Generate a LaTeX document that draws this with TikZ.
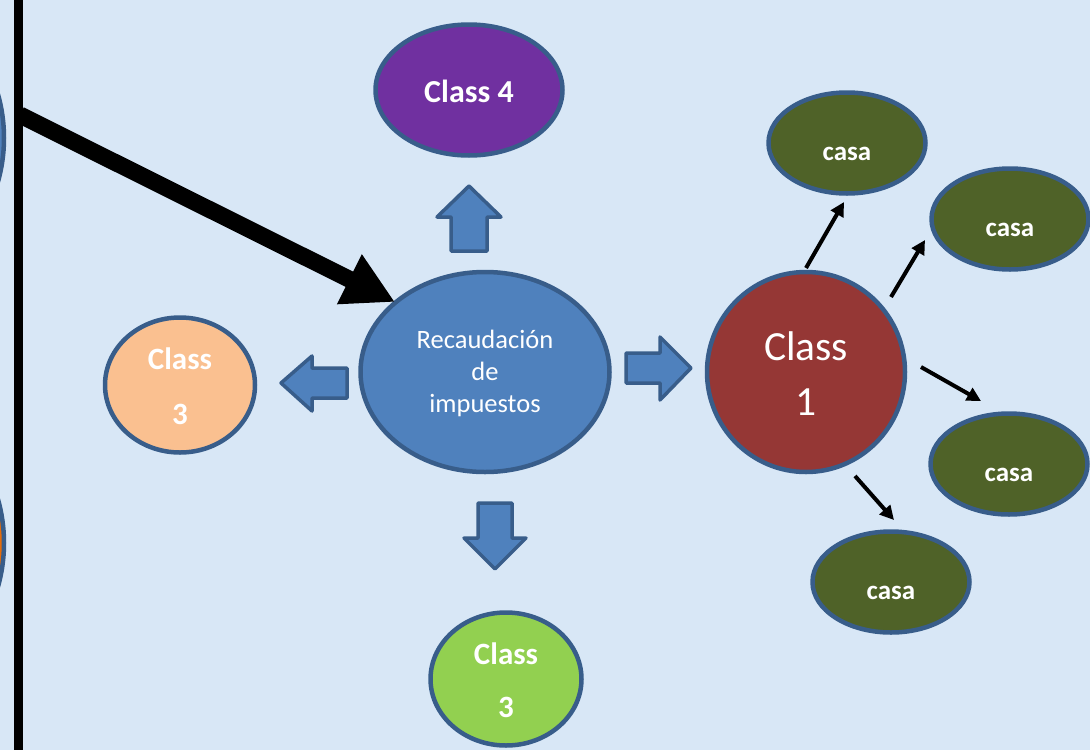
\documentclass[tikz,border=0pt]{standalone}
\usepackage{fontspec}
\setmainfont{Carlito}
\usetikzlibrary{shapes.geometric,arrows.meta}
\definecolor{bg}{RGB}{216,231,246}
\definecolor{rim}{RGB}{56,93,138}
\definecolor{blu}{RGB}{79,129,189}
\definecolor{wine}{RGB}{149,55,53}
\definecolor{purp}{RGB}{112,48,160}
\definecolor{peach}{RGB}{250,192,144}
\definecolor{lime}{RGB}{146,208,80}
\definecolor{olive}{RGB}{79,98,40}
\definecolor{orng}{RGB}{228,108,10}
\begin{document}
\begin{tikzpicture}[x=1pt,y=-1pt,
  bub/.style={ellipse,draw=rim,line width=4.5pt,inner sep=0pt,text=white},
  lbl/.style={text=white,font=\fontsize{27}{30}\selectfont\bfseries},
  casa/.style={bub,fill=olive,minimum width=157pt,minimum height=101pt,
    label={[lbl,yshift=-11pt]center:casa}},
  classb/.style={text=white,align=center,font=\fontsize{31}{55}\selectfont\bfseries},
  blockarrow/.style={fill=blu,draw=rim,line width=3.5pt,line join=round},
  thin/.style={line width=4pt,-{Triangle[length=14pt,width=14pt]}},
  bigarrow/.style={line width=17pt,-{Triangle[length=51pt,width=52pt]}}
]
\fill[bg] (0,0) rectangle (1090,750);
\useasboundingbox (0,0) rectangle (1090,750);

% partial bubbles at the left edge
\node[bub,fill=blu,minimum size=320pt] (lefttop) at (-156,138) {};
\node[bub,fill=orng,minimum size=320pt] (leftbot) at (-156,543) {};

% vertical bar
\coordinate (vtop) at (18.5,0);
\coordinate (vbot) at (18.5,750);
\draw[line width=9pt] (vtop) -- (vbot);

% main bubbles
\node[bub,fill=blu,minimum width=249pt,minimum height=200pt] (rec) at (485,372) {};
\node[text=white,align=center,font=\fontsize{26.5}{32}\selectfont] (rect) at (485,373) {Recaudación\\de\\impuestos};

\node[bub,fill=purp,minimum width=187pt,minimum height=131pt] (c4) at (469,90) {};
\node[lbl,font=\fontsize{32}{34}\selectfont\bfseries] (c4t) at (469,91) {Class 4};

\node[bub,fill=peach,minimum width=150pt,minimum height=135pt] (c3a) at (180,385) {};
\node[classb] (c3at) at (180,386) {Class\\3};

\node[bub,fill=lime,minimum width=151pt,minimum height=133pt] (c3b) at (506,679) {};
\node[classb,font=\fontsize{31}{53}\selectfont\bfseries] (c3bt) at (506,680) {Class\\3};

\node[bub,fill=wine,minimum width=198pt,minimum height=200pt] (c1) at (806,372) {};
\node[text=white,align=center,font=\fontsize{41.5}{55}\selectfont] (c1t) at (806,374) {Class\\1};

% casa bubbles
\node[casa] (k1) at (847,143) {};
\node[casa] (k2) at (1010,219) {};
\node[casa] (k3) at (1009,464) {};
\node[casa] (k4) at (891,582) {};

% block arrows
\draw[blockarrow] (469,186) -- (501,217) -- (487,217) -- (487,251) -- (451,251) -- (451,217) -- (437,217) -- cycle;
\draw[blockarrow] (281,383) -- (312,356) -- (312,368) -- (347,368) -- (347,398) -- (312,398) -- (312,411) -- cycle;
\draw[blockarrow] (691,368) -- (660,337) -- (660,353) -- (626,353) -- (626,383) -- (660,383) -- (660,400) -- cycle;
\draw[blockarrow] (495,569) -- (464,538) -- (478,538) -- (478,503) -- (512,503) -- (512,538) -- (526,538) -- cycle;

% thin arrows from Class 1
\coordinate (a1s) at (806,268); \coordinate (a1e) at (844,202);
\coordinate (a2s) at (891,297); \coordinate (a2e) at (925,240);
\coordinate (a3s) at (921,367); \coordinate (a3e) at (981,401);
\coordinate (a4s) at (855,476); \coordinate (a4e) at (894,520);
\draw[thin] (a1s) -- (a1e);
\draw[thin] (a2s) -- (a2e);
\draw[thin] (a3s) -- (a3e);
\draw[thin] (a4s) -- (a4e);

% big black arrow
\coordinate (bs) at (20,115);
\coordinate (be) at (395,302);
\draw[bigarrow] (bs) -- (be);
\end{tikzpicture}
\end{document}
